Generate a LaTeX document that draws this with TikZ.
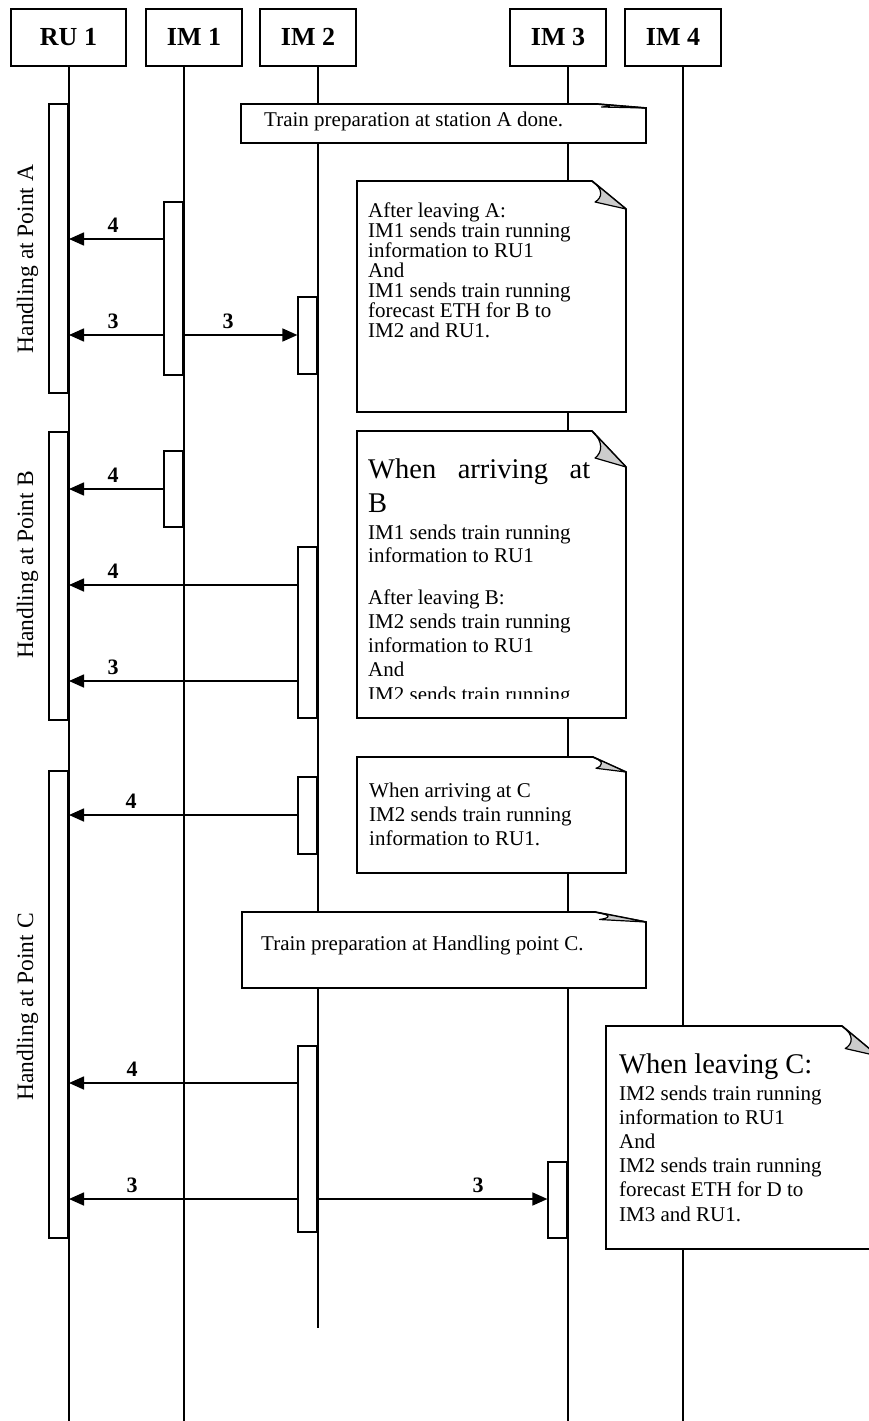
\documentclass[tikz,border=0pt]{standalone}
\usepackage{fontspec}
\setmainfont{Liberation Serif}
\usetikzlibrary{arrows.meta}

% text sizes
\newcommand\notefs{\fontsize{21}{20}\selectfont}
\newcommand\bignotefs{\fontsize{28.5}{34}\selectfont}

% note with a folded top-right corner: x1 y1 x2 y2 foldwidth foldheight
\newcommand\foldnote[6]{%
  \draw[notebox] (#1,#2) -- (#3-#5,#2) -- (#3,#2+#6) -- (#3,#4) -- (#1,#4) -- cycle;
  \begin{scope}[shift={(#3-#5,#2)},x=#5pt,y=-#6pt]
    \draw[foldpiece] (0,0) .. controls (0.35,0.3) and (0.3,0.6) .. (0.09,0.75) -- (1,1) -- cycle;
  \end{scope}}

\begin{document}
\begin{tikzpicture}[x=1pt,y=-1pt,
  head/.style={draw, line width=1.7pt, fill=white, minimum width=96pt,
    minimum height=57pt, inner sep=0pt, text height=17pt, text depth=0pt,
    font=\fontsize{26}{26}\selectfont\bfseries},
  life/.style={line width=1.5pt},
  notebox/.style={draw, line width=1.7pt, fill=white},
  foldpiece/.style={draw, line width=1.2pt, fill=gray!40, line join=round},
  actbar/.style={draw, line width=1.6pt, fill=white, minimum width=19pt,
    inner sep=0pt, anchor=north east},
  msg/.style={line width=1.6pt, -{Triangle[length=15pt,width=13pt]}},
  lbl/.style={anchor=base, inner sep=0pt, font=\fontsize{22}{22}\selectfont\bfseries},
  txt/.style={anchor=base west, inner sep=0pt},
  phase/.style={rotate=90, anchor=base, inner sep=0pt, font=\fontsize{23.5}{24}\selectfont}]

\useasboundingbox (0,0) rectangle (869,1421);
\clip (0,0) rectangle (869,1421);

% participants
\node[head, minimum width=115pt] (ru1) at (68.5,37.5) {RU 1};
\node[head] (im1) at (194,37.5) {IM 1};
\node[head] (im2) at (308,37.5) {IM 2};
\node[head] (im3) at (558,37.5) {IM 3};
\node[head] (im4) at (673,37.5) {IM 4};

% lifelines
\foreach \n/\x/\e in {ru1/69/1421, im1/184/1421, im2/318/1328, im3/568/1421, im4/683/1421}{
  \coordinate (\n-end) at (\x,\e);
  \draw[life] (\n.south -| \n-end) -- (\n-end);
}

% notes
\foldnote{241}{104}{646}{143}{49}{4}
\foldnote{357}{181}{626}{412}{34}{28}
\foldnote{357}{431}{626}{718}{34}{36}
\foldnote{357}{757}{626}{873}{33}{15}
\foldnote{242}{912}{646}{988}{51}{10}
\foldnote{606}{1026}{878}{1249}{36}{30}

\node[txt] (prepA) at (264,126) {\notefs Train preparation at station A done.};

\node[txt] (leaveA) at (368,217) {\parbox[t]{250pt}{\notefs After leaving A:\\IM1 sends train running\\information to RU1\\And\\IM1 sends train running\\forecast ETH for B to\\IM2 and RU1.}};

\begin{scope}
  \clip (357,431) rectangle (626,698);
  \node[txt] (arriveBhead) at (368,478) {\parbox[t]{260pt}{\bignotefs\makebox[222pt][s]{When arriving at}\\B}};
  \node[txt] (arriveB) at (368,539) {\parbox[t]{250pt}{\fontsize{21}{23}\selectfont IM1 sends train running\\information to RU1}};
  \node[txt] (leaveB) at (368,604) {\parbox[t]{250pt}{\fontsize{21}{24.3}\selectfont After leaving B:\\IM2 sends train running\\information to RU1\\And\\IM2 sends train running}};
\end{scope}

\node[txt] (arriveC) at (369,797) {\parbox[t]{250pt}{\fontsize{21}{24}\selectfont When arriving at C\\IM2 sends train running\\information to RU1.}};

\node[txt] (prepC) at (261,950) {\notefs Train preparation at Handling point C.};

\node[txt] (leaveChead) at (619,1073) {\bignotefs When leaving C:};
\node[txt] (leaveC) at (619,1100) {\parbox[t]{250pt}{\fontsize{21}{24.2}\selectfont IM2 sends train running\\information to RU1\\And\\IM2 sends train running\\forecast ETH for D to\\IM3 and RU1.}};

% activation bars
\node[actbar, minimum height=289pt] (ruA) at (69,103) {};
\node[actbar, minimum height=288pt] (ruB) at (69,431) {};
\node[actbar, minimum height=467pt] (ruC) at (69,770) {};
\node[actbar, minimum height=173pt] (im1A) at (184,201) {};
\node[actbar, minimum height=76pt]  (im1B) at (184,450) {};
\node[actbar, minimum height=77pt]  (im2A) at (318,296) {};
\node[actbar, minimum height=171pt] (im2B) at (318,546) {};
\node[actbar, minimum height=77pt]  (im2C) at (318,776) {};
\node[actbar, minimum height=186pt] (im2D) at (318,1045) {};
\node[actbar, minimum height=76pt]  (im3D) at (568,1161) {};

% phase labels
\node[phase] (phA) at (33,259) {Handling at Point A};
\node[phase] (phB) at (33,565) {Handling at Point B};
\node[phase] (phC) at (33,1007) {Handling at Point C};

% messages
\draw[msg] (im1A.west |- 0,239) -- (ruA.east |- 0,239);
\node[lbl] (m1) at (113,232) {4};
\draw[msg] (im1A.west |- 0,335) -- (ruA.east |- 0,335);
\node[lbl] (m2) at (113,328) {3};
\draw[msg] (im1A.east |- 0,335) -- (im2A.west |- 0,335);
\node[lbl] (m3) at (228,328) {3};

\draw[msg] (im1B.west |- 0,489) -- (ruB.east |- 0,489);
\node[lbl] (m4) at (113,482) {4};
\draw[msg] (im2B.west |- 0,585) -- (ruB.east |- 0,585);
\node[lbl] (m5) at (113,578) {4};
\draw[msg] (im2B.west |- 0,681) -- (ruB.east |- 0,681);
\node[lbl] (m6) at (113,674) {3};

\draw[msg] (im2C.west |- 0,815) -- (ruC.east |- 0,815);
\node[lbl] (m7) at (131,808) {4};
\draw[msg] (im2D.west |- 0,1083) -- (ruC.east |- 0,1083);
\node[lbl] (m8) at (132,1076) {4};
\draw[msg] (im2D.west |- 0,1199) -- (ruC.east |- 0,1199);
\node[lbl] (m9) at (132,1192) {3};
\draw[msg] (im2D.east |- 0,1199) -- (im3D.west |- 0,1199);
\node[lbl] (m10) at (478,1192) {3};

\end{tikzpicture}
\end{document}
